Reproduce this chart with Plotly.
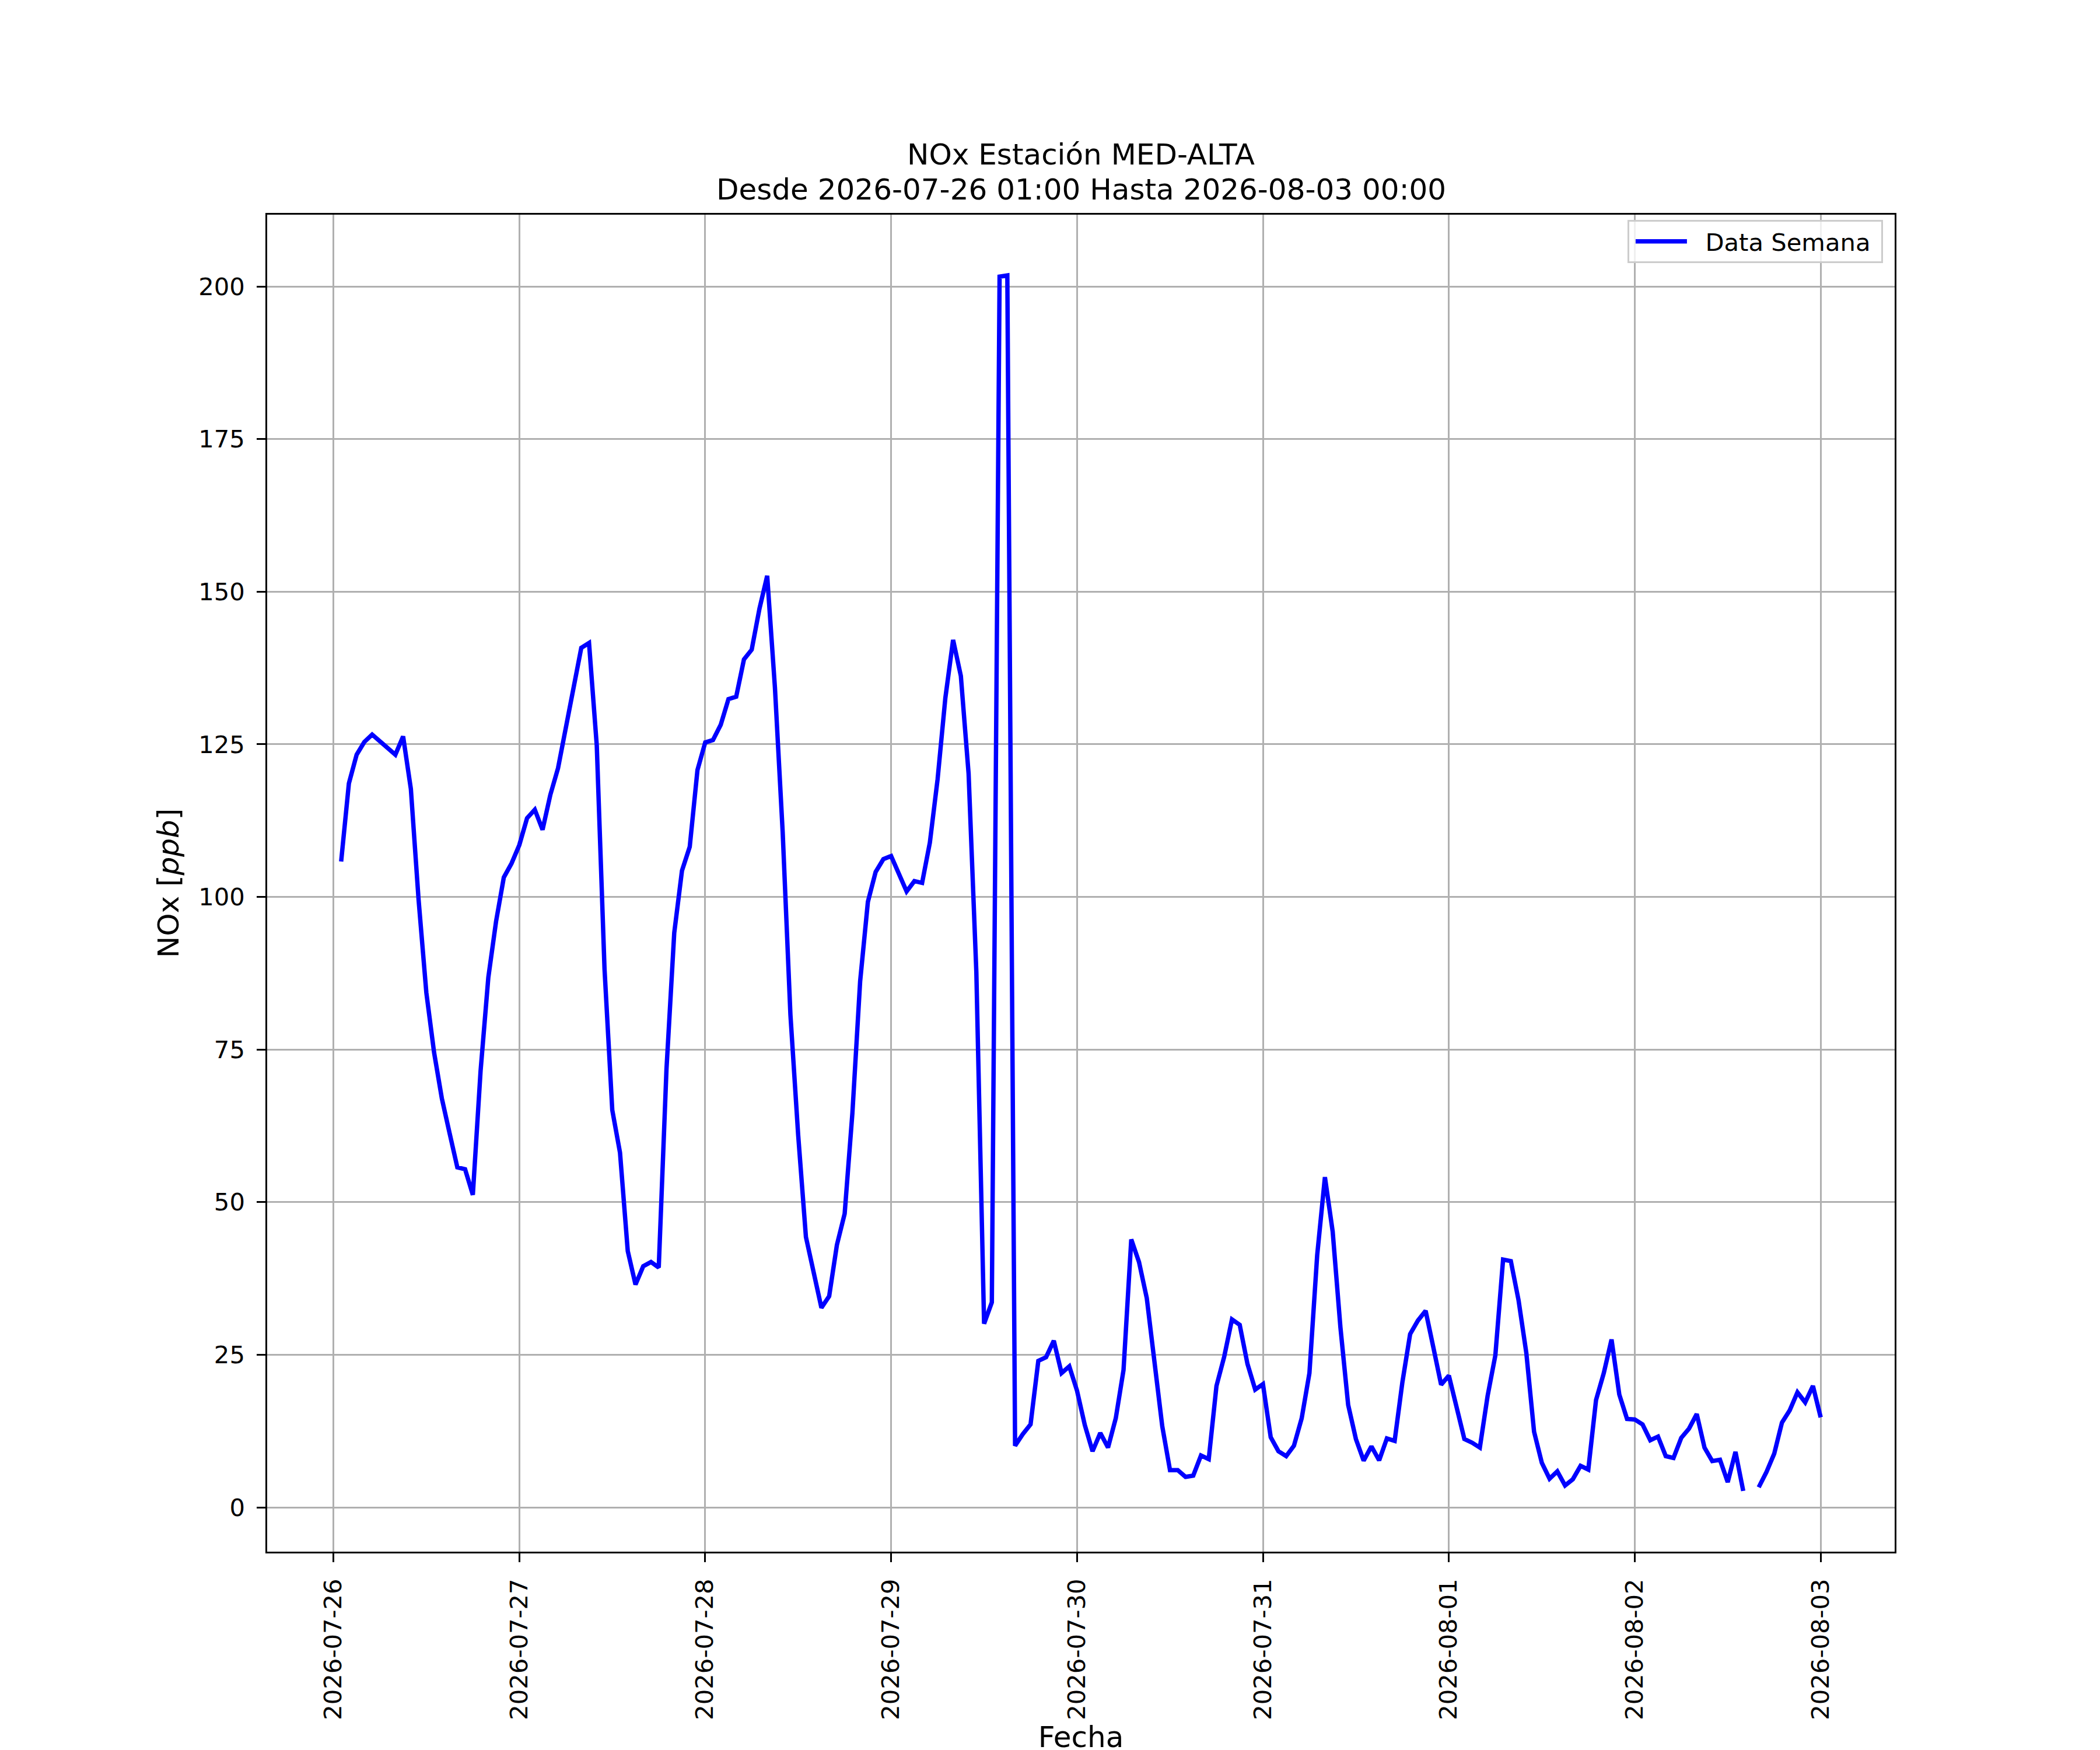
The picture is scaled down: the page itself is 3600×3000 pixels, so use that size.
import pandas as pd
import plotly.graph_objects as go

# hourly NOx readings, 2026-07-26 01:00 .. 2026-08-03 00:00 (None = missing hour)
start = "2026-07-26 01:00"
end = "2026-08-03 00:00"

dia_26 = [105.8, 118.6, 123.3, 125.4, 126.6, 125.5, 124.4, 123.3, 126.3, 117.7, 99.5, 84.3,
          74.5, 67.0, 61.3, 55.7, 55.4, 51.2, 71.5, 86.8, 96.0, 103.2, 105.5, 108.5]
dia_27 = [112.9, 114.3, 111.0, 116.7, 121.1, 127.7, 134.8, 140.8, 141.6, 124.8, 88.2, 65.1,
          58.1, 42.0, 36.5, 39.5, 40.2, 39.3, 71.8, 94.1, 104.3, 108.2, 120.8, 125.3]
dia_28 = [125.7, 128.2, 132.4, 132.8, 138.9, 140.5, 147.2, 152.6, 134.3, 110.6, 80.7, 61.0,
          44.3, 38.4, 32.7, 34.6, 43.0, 48.1, 64.6, 86.2, 99.2, 104.1, 106.2, 106.7]
dia_29 = [103.9, 100.9, 102.6, 102.3, 108.9, 119.3, 132.6, 142.1, 136.2, 120.2, 87.7, 30.1,
          33.6, 201.6, 201.8, 10.1, 12.0, 13.6, 24.0, 24.6, 27.3, 22.0, 23.1, 19.1]
dia_30 = [13.5, 9.2, 12.2, 9.8, 14.6, 22.5, 43.9, 40.2, 34.3, 24.3, 13.3, 6.1,
          6.1, 5.0, 5.2, 8.5, 7.9, 19.9, 24.7, 30.8, 29.9, 23.5, 19.3, 20.2]
dia_31 = [11.5, 9.2, 8.4, 10.1, 14.6, 22.0, 41.3, 54.1, 45.2, 29.5, 16.8, 11.2,
          7.65, 10.0, 7.7, 11.3, 10.9, 20.5, 28.4, 30.6, 32.2, 26.2, 20.1, 21.6]
dia_01 = [16.3, 11.2, 10.6, 9.8, 18.25, 24.9, 40.6, 40.35, 33.9, 25.3, 12.4, 7.3,
          4.7, 5.9, 3.6, 4.6, 6.8, 6.2, 17.6, 22.0, 27.5, 18.5, 14.5, 14.4]
dia_02 = [13.6, 11.0, 11.6, 8.4, 8.1, 11.4, 12.9, 15.3, 9.8, 7.6, 7.8, 4.15,
          9.1, 2.7, None, 3.3, 5.8, 8.8, 13.9, 15.9, 18.85, 17.2, 19.9, 14.75]

nox = dia_26 + dia_27 + dia_28 + dia_29 + dia_30 + dia_31 + dia_01 + dia_02
fechas = pd.date_range(start, end, freq="h")

dias = pd.date_range("2026-07-26", "2026-08-03", freq="D")
y_ticks = [0, 25, 50, 75, 100, 125, 150, 175, 200]

titulo = "NOx Estación MED-ALTA"
subtitulo = "Desde 2026-07-26 01:00 Hasta 2026-08-03 00:00"

# nbsp's give the gap between legend line and text that matplotlib has
fig = go.Figure(go.Scatter(x=fechas, y=nox, mode="lines",
                           name="\u00a0\u00a0Data Semana\u00a0",
                           line=dict(color="blue", width=7.5), connectgaps=False))

axis_style = dict(showline=True, mirror=True, linecolor="black", linewidth=3.3,
                  showgrid=True, gridcolor="#b0b0b0", gridwidth=3.3,
                  ticks="outside", ticklen=14.6, tickwidth=3.3, tickcolor="black",
                  tickfont=dict(size=41.7, color="black"), zeroline=False,
                  ticklabelstandoff=12)

# two-line title, placed like matplotlib's (6pt pad over the axes)
for texto, shift in [(titulo, 72), (subtitulo, 12)]:
    fig.add_annotation(text=texto, xref="paper", yref="paper", x=0.5, y=1,
                       xanchor="center", yanchor="bottom", yshift=shift,
                       showarrow=False, font=dict(size=50, color="black"))

fig.update_layout(
    width=3600, height=3000,
    margin=dict(l=450, r=360, t=360, b=330),
    paper_bgcolor="white", plot_bgcolor="white",
    font=dict(family="DejaVu Sans", color="black"),
    showlegend=True,
    legend=dict(x=0.9928, y=0.996, xanchor="right", yanchor="top",
                bordercolor="#cccccc", borderwidth=3, bgcolor="rgba(255,255,255,0.8)",
                font=dict(size=41.7), itemwidth=88, tracegroupgap=0,
                indentation=6),
)

fig.update_xaxes(range=["2026-07-25 15:27", "2026-08-03 09:33"],
                 tickvals=dias, tickformat="%Y-%m-%d", tickangle=-90,
                 title=dict(text="Fecha", font=dict(size=50), standoff=12),
                 **axis_style)
fig.update_yaxes(range=[-7.25, 211.76], tickvals=y_ticks,
                 title=dict(text="NOx [<i>ppb</i>]", font=dict(size=50), standoff=18),
                 **axis_style)

fig.write_html("out.html")
